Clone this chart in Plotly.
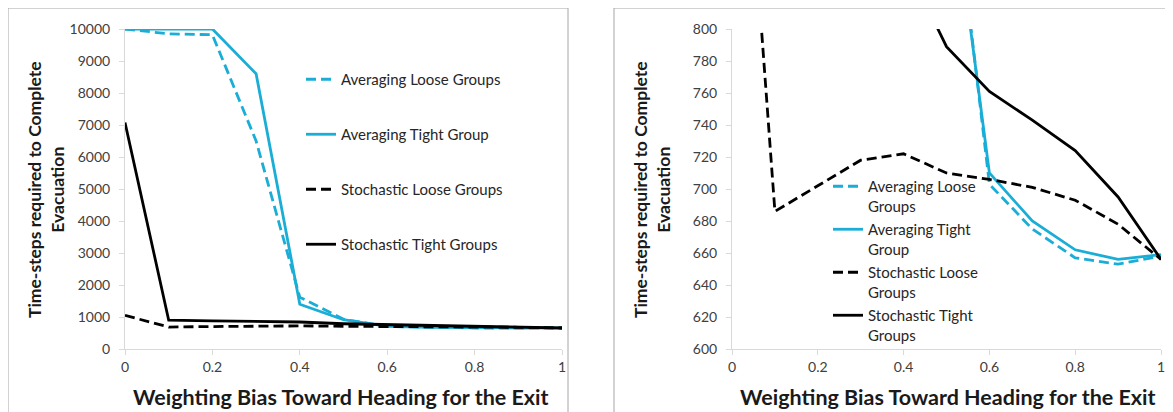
import plotly.graph_objects as go

x_bias = [0, 0.1, 0.2, 0.3, 0.4, 0.5, 0.6, 0.7, 0.8, 0.9, 1.0]
avg_loose = [10000, 9850, 9820, 6500, 1620, 930, 703, 675, 657, 653, 658]
avg_tight = [10000, 10000, 10000, 8600, 1400, 915, 710, 680, 662, 656, 659]
sto_loose = [1050, 686, 702, 718, 722, 710, 706, 701, 693, 678, 656]
sto_tight = [7080, 900, 880, 862, 844, 789, 761, 743, 724, 695, 656]

names_left = ["Averaging Loose Groups", "Averaging Tight Group",
              "Stochastic Loose Groups", "Stochastic Tight Groups"]
names_right = ["Averaging Loose<br>Groups", "Averaging Tight<br>Group",
               "Stochastic Loose<br>Groups", "Stochastic Tight<br>Groups"]

CYAN = "#1AADD6"
BLACK = "#000000"
styles = [(CYAN, "10px,5px"), (CYAN, "solid"), (BLACK, "10px,5px"), (BLACK, "solid")]
series = [avg_loose, avg_tight, sto_loose, sto_tight]

W, H = 1173, 412
OFF = 8  # page body margin
FONT = "Lato"

fig = go.Figure()
for i, (ys, (c, d)) in enumerate(zip(series, styles)):
    fig.add_trace(go.Scatter(x=x_bias, y=ys, mode="lines", name=names_left[i],
                             line=dict(color=c, dash=d, width=2.8),
                             xaxis="x", yaxis="y", legend="legend",
                             legendgroup="L%d" % i))
for i, (ys, (c, d)) in enumerate(zip(series, styles)):
    fig.add_trace(go.Scatter(x=x_bias, y=ys, mode="lines", name=names_right[i],
                             line=dict(color=c, dash=d, width=2.8),
                             xaxis="x2", yaxis="y2", legend="legend2",
                             legendgroup="R%d" % i))

def px(v):
    return (v - OFF) / W

def py(v):
    return 1 - (v - OFF) / H

axis_common = dict(showgrid=False, zeroline=False, showline=True, linecolor="#d9d9d9",
                   linewidth=1, ticks="outside", ticklen=5, tickcolor="#d9d9d9",
                   automargin=False,
                   tickfont=dict(family=FONT, size=14, color="#404040"))

fig.update_layout(
    width=W, height=H,
    margin=dict(l=0, r=0, t=0, b=0, autoexpand=False),
    paper_bgcolor="white", plot_bgcolor="white",
    font=dict(family=FONT),
    xaxis=dict(domain=[px(125), px(562)], range=[0, 1], tickvals=[0, 0.2, 0.4, 0.6, 0.8, 1],
               ticktext=["0", "0.2", "0.4", "0.6", "0.8", "1"], anchor="y", **axis_common),
    yaxis=dict(domain=[py(349), py(29)], range=[0, 10000], dtick=1000, tickformat="d",
               anchor="x", ticklabelstandoff=6, **axis_common),
    xaxis2=dict(domain=[px(732), px(1161)], range=[0, 1], tickvals=[0, 0.2, 0.4, 0.6, 0.8, 1],
                ticktext=["0", "0.2", "0.4", "0.6", "0.8", "1"], anchor="y2", **axis_common),
    yaxis2=dict(domain=[py(349), py(29)], range=[600, 800], dtick=20, tickformat="d",
                anchor="x2", ticklabelstandoff=6, **axis_common),
    legend=dict(x=px(301), y=py(63), xanchor="left", yanchor="top", bgcolor="rgba(0,0,0,0)",
                font=dict(family=FONT, size=15, color="#262626"), tracegroupgap=32.5,
                traceorder="grouped", itemwidth=30),
    legend2=dict(x=px(828), y=py(170), xanchor="left", yanchor="top", bgcolor="rgba(0,0,0,0)",
                 font=dict(family=FONT, size=15, color="#262626"), tracegroupgap=1,
                 traceorder="grouped", itemwidth=30, valign="top"),
    showlegend=True,
)

shapes = [
    dict(type="rect", xref="paper", yref="paper", x0=px(8), x1=px(568), y0=-0.05, y1=py(8),
         line=dict(color="#a6a6a6", width=1), fillcolor="rgba(0,0,0,0)", layer="below"),
    dict(type="rect", xref="paper", yref="paper", x0=px(614), x1=px(1172), y0=-0.05, y1=py(8),
         line=dict(color="#a6a6a6", width=1), fillcolor="rgba(0,0,0,0)", layer="below"),
]
fig.update_layout(shapes=shapes)

xt = "Weighting Bias Toward Heading for the Exit"
yt = "Time-steps required to Complete<br>Evacuation"
ann_common = dict(xref="paper", yref="paper", showarrow=False, xanchor="center", yanchor="middle")
ann = [
    dict(text=xt, x=px(341), y=py(397), **ann_common,
         font=dict(family=FONT, size=21.5, color="#1a1a1a", weight="bold")),
    dict(text=xt, x=px(948), y=py(397), **ann_common,
         font=dict(family=FONT, size=21.5, color="#1a1a1a", weight="bold")),
    dict(text=yt, x=px(46), y=py(190), textangle=-90, **ann_common,
         font=dict(family=FONT, size=17.5, color="#1a1a1a", weight="bold")),
    dict(text=yt, x=px(652), y=py(190), textangle=-90, **ann_common,
         font=dict(family=FONT, size=17.5, color="#1a1a1a", weight="bold")),
]
fig.update_layout(annotations=ann)

fig.write_html("out.html")
